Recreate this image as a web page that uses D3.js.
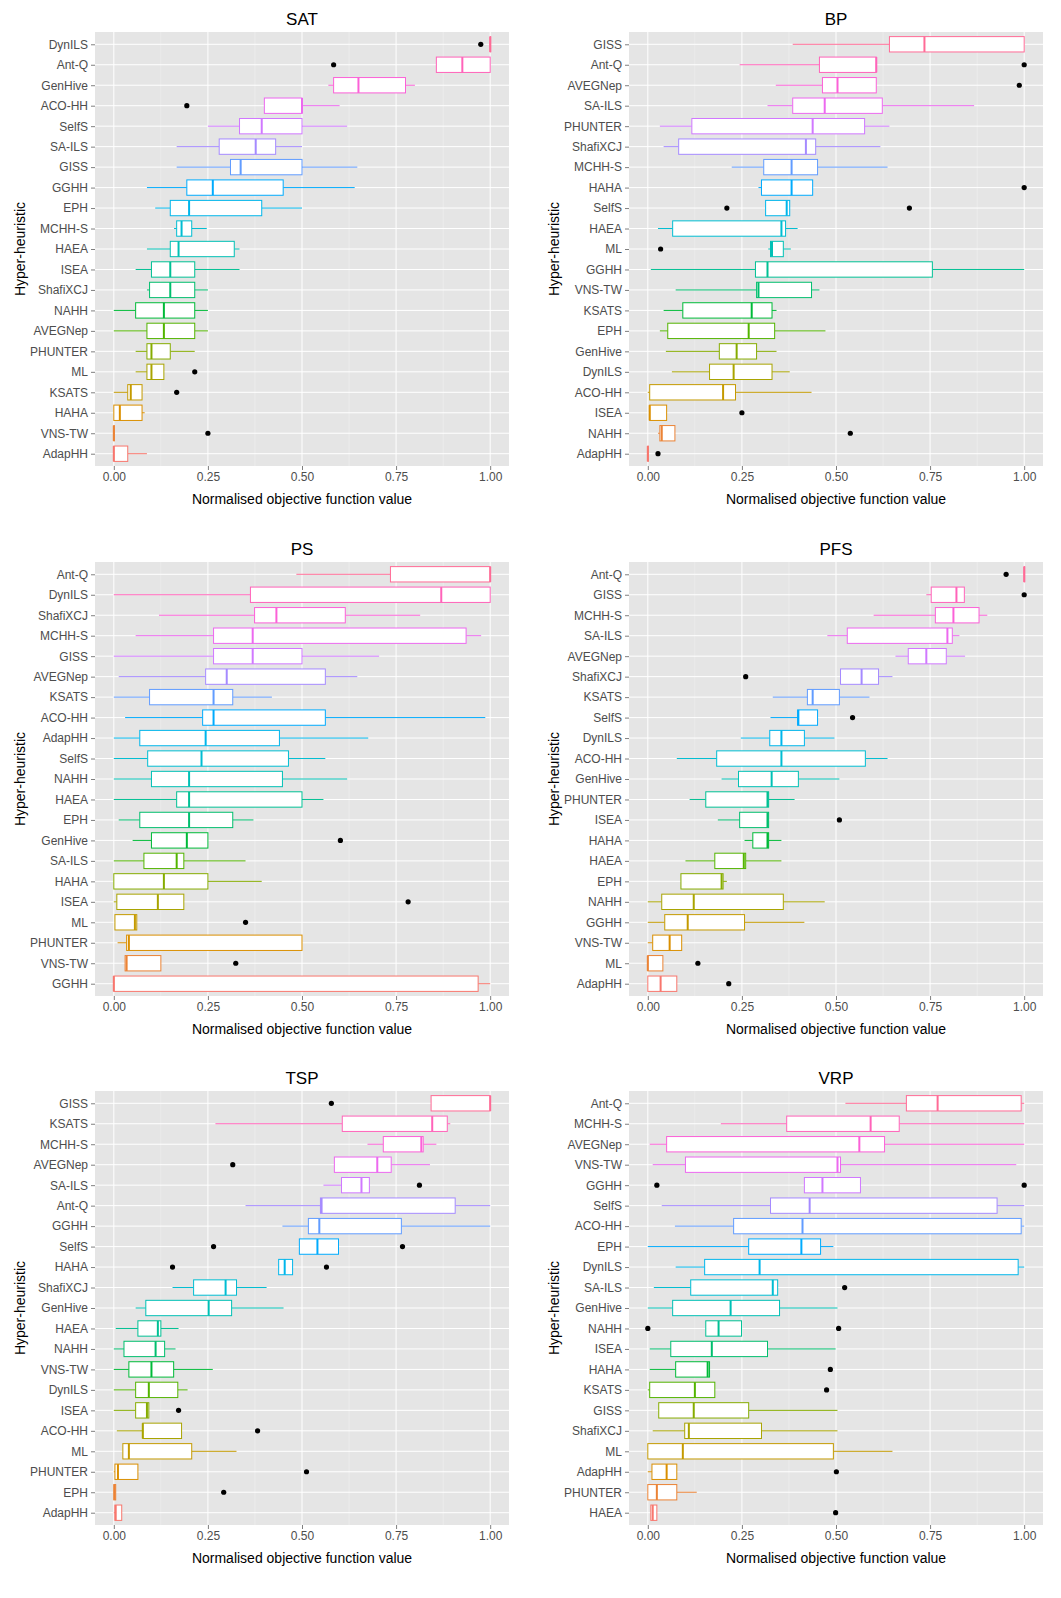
<!DOCTYPE html>
<html><head><meta charset="utf-8">
<script src="https://cdn.jsdelivr.net/npm/d3@7"></script>
<style>body{margin:0;background:#fff;font-family:"Liberation Sans",Arial,sans-serif}</style>
</head><body>
<svg id="chart" width="1061" height="1598"></svg>
<script>
// each panel: names top to bottom, [lo, q1, median, q3, hi], outliers
var satNames = ["DynILS","Ant-Q","GenHive","ACO-HH","SelfS","SA-ILS","GISS","GGHH","EPH","MCHH-S","HAEA","ISEA","ShafiXCJ","NAHH","AVEGNep","PHUNTER","ML","KSATS","HAHA","VNS-TW","AdapHH"];
var satStats = [[1,1,1,1,1],[0.857,0.857,0.926,1,1],[0.57,0.584,0.65,0.775,0.8],[0.4,0.4,0.5,0.5,0.6],[0.25,0.334,0.393,0.5,0.62],[0.167,0.28,0.377,0.43,0.5],[0.167,0.31,0.337,0.5,0.647],[0.088,0.194,0.263,0.45,0.64],[0.11,0.15,0.2,0.393,0.5],[0.16,0.167,0.18,0.207,0.247],[0.088,0.15,0.172,0.32,0.334],[0.058,0.1,0.15,0.215,0.334],[0.088,0.095,0.15,0.215,0.25],[0,0.058,0.133,0.215,0.25],[0,0.088,0.133,0.215,0.25],[0.058,0.088,0.1,0.15,0.215],[0.058,0.088,0.1,0.133,0.133],[0,0.037,0.045,0.075,0.075],[0,0,0.016,0.075,0.082],[0,0,0,0,0],[0,0,0,0.037,0.088]];
var satOut = [[0.975],[0.584],[],[0.194],[],[],[],[],[],[],[],[],[],[],[],[],[0.215],[0.167],[],[0.25],[]];

var bpNames = ["GISS","Ant-Q","AVEGNep","SA-ILS","PHUNTER","ShafiXCJ","MCHH-S","HAHA","SelfS","HAEA","ML","GGHH","VNS-TW","KSATS","EPH","GenHive","DynILS","ACO-HH","ISEA","NAHH","AdapHH"];
var bpStats = [[0.385,0.642,0.735,1,1],[0.244,0.456,0.607,0.607,0.607],[0.34,0.464,0.504,0.607,0.607],[0.318,0.385,0.47,0.623,0.867],[0.032,0.117,0.438,0.576,0.642],[0.042,0.082,0.42,0.446,0.618],[0.223,0.308,0.382,0.451,0.637],[0.294,0.302,0.382,0.438,0.438],[0.313,0.313,0.369,0.377,0.377],[0.027,0.066,0.355,0.366,0.398],[0.32,0.326,0.33,0.36,0.38],[0.008,0.286,0.318,0.756,1],[0.074,0.289,0.294,0.435,0.456],[0.042,0.093,0.276,0.33,0.342],[0.032,0.053,0.268,0.337,0.472],[0.048,0.19,0.236,0.289,0.342],[0.064,0.164,0.228,0.33,0.377],[0,0.005,0.2,0.233,0.435],[0.005,0.005,0.005,0.05,0.05],[0.027,0.032,0.037,0.072,0.072],[0,0,0,0,0]];
var bpOut = [[],[1],[0.987],[],[],[],[],[1],[0.21,0.695],[],[0.034],[],[],[],[],[],[],[],[0.25],[0.538],[0.027]];

var psNames = ["Ant-Q","DynILS","ShafiXCJ","MCHH-S","GISS","AVEGNep","KSATS","ACO-HH","AdapHH","SelfS","NAHH","HAEA","EPH","GenHive","SA-ILS","HAHA","ISEA","ML","PHUNTER","VNS-TW","GGHH"];
var psStats = [[0.485,0.735,1,1,1],[0,0.363,0.87,1,1],[0.12,0.374,0.432,0.615,0.814],[0.058,0.265,0.369,0.936,0.976],[0,0.265,0.369,0.5,0.705],[0.013,0.244,0.3,0.562,0.647],[0,0.095,0.265,0.316,0.42],[0.03,0.236,0.265,0.562,0.987],[0,0.069,0.244,0.44,0.676],[0,0.09,0.233,0.464,0.562],[0,0.1,0.2,0.448,0.62],[0,0.167,0.2,0.5,0.557],[0.013,0.069,0.2,0.316,0.371],[0.05,0.1,0.194,0.25,0.25],[0,0.08,0.167,0.186,0.35],[0,0,0.133,0.25,0.393],[0,0.008,0.117,0.186,0.186],[0.003,0.003,0.056,0.061,0.061],[0.01,0.034,0.04,0.5,0.5],[0.03,0.03,0.034,0.125,0.125],[0,0,0,0.968,1]];
var psOut = [[],[],[],[],[],[],[],[],[],[],[],[],[],[0.602],[],[],[0.782],[0.35],[],[0.324],[]];

var pfsNames = ["Ant-Q","GISS","MCHH-S","SA-ILS","AVEGNep","ShafiXCJ","KSATS","SelfS","DynILS","ACO-HH","GenHive","PHUNTER","ISEA","HAHA","HAEA","EPH","NAHH","GGHH","VNS-TW","ML","AdapHH"];
var pfsStats = [[1,1,1,1,1],[0.74,0.753,0.82,0.841,0.841],[0.6,0.764,0.812,0.88,0.902],[0.477,0.53,0.796,0.809,0.828],[0.658,0.692,0.74,0.793,0.843],[0.512,0.512,0.568,0.613,0.65],[0.332,0.424,0.438,0.509,0.589],[0.326,0.398,0.4,0.451,0.451],[0.247,0.324,0.355,0.416,0.496],[0.077,0.183,0.355,0.578,0.637],[0.196,0.241,0.329,0.4,0.509],[0.111,0.154,0.318,0.321,0.39],[0.186,0.244,0.318,0.321,0.321],[0.257,0.279,0.318,0.321,0.355],[0.1,0.178,0.255,0.26,0.355],[0.088,0.088,0.196,0.2,0.21],[0,0.037,0.122,0.36,0.47],[0,0.045,0.106,0.257,0.416],[0,0.013,0.058,0.09,0.09],[0,0,0,0.04,0.04],[0,0,0.034,0.077,0.077]];
var pfsOut = [[0.952],[1],[],[],[],[0.26],[],[0.544],[],[],[],[],[0.509],[],[],[],[],[],[],[0.133],[0.215]];

var tspNames = ["GISS","KSATS","MCHH-S","AVEGNep","SA-ILS","Ant-Q","GGHH","SelfS","HAHA","ShafiXCJ","GenHive","HAEA","NAHH","VNS-TW","DynILS","ISEA","ACO-HH","ML","PHUNTER","EPH","AdapHH"];
var tspStats = [[0.843,0.843,1,1,1],[0.27,0.607,0.846,0.886,0.894],[0.674,0.716,0.817,0.822,0.857],[0.586,0.586,0.7,0.737,0.84],[0.557,0.605,0.658,0.679,0.679],[0.35,0.549,0.552,0.907,1],[0.448,0.517,0.546,0.764,1],[0.493,0.493,0.541,0.597,0.597],[0.438,0.438,0.454,0.475,0.475],[0.156,0.212,0.297,0.326,0.406],[0.058,0.085,0.252,0.313,0.451],[0.005,0.064,0.117,0.125,0.172],[0,0.027,0.111,0.135,0.164],[0,0.04,0.1,0.159,0.263],[0,0.058,0.093,0.17,0.196],[0,0.058,0.088,0.093,0.093],[0.008,0.077,0.077,0.18,0.18],[0.024,0.024,0.04,0.207,0.326],[0,0.003,0.011,0.064,0.064],[0,0,0.002,0.005,0.005],[0,0.003,0.005,0.021,0.021]];
var tspOut = [[0.578],[],[],[0.316],[0.812],[],[],[0.265,0.767],[0.156,0.565],[],[],[],[],[],[],[0.172],[0.382],[],[0.512],[0.292],[]];

var vrpNames = ["Ant-Q","MCHH-S","AVEGNep","VNS-TW","GGHH","SelfS","ACO-HH","EPH","DynILS","SA-ILS","GenHive","NAHH","ISEA","HAHA","KSATS","GISS","ShafiXCJ","ML","AdapHH","PHUNTER","HAEA"];
var vrpStats = [[0.525,0.687,0.77,0.992,1],[0.194,0.369,0.592,0.668,1],[0.005,0.05,0.562,0.629,1],[0.013,0.1,0.504,0.512,0.979],[0.416,0.416,0.464,0.565,0.565],[0.037,0.326,0.43,0.928,1],[0.072,0.228,0.411,0.992,1],[0,0.268,0.408,0.459,0.493],[0.074,0.151,0.297,0.984,1],[0.016,0.114,0.332,0.345,0.345],[0,0.066,0.22,0.35,0.504],[0.154,0.154,0.188,0.249,0.249],[0.005,0.061,0.17,0.318,0.499],[0.005,0.074,0.159,0.164,0.164],[0,0.005,0.125,0.178,0.178],[0.029,0.029,0.122,0.268,0.504],[0.013,0.098,0.109,0.302,0.504],[0,0,0.093,0.493,0.65],[0,0.011,0.05,0.077,0.077],[0,0,0.024,0.077,0.13],[0.008,0.008,0.013,0.024,0.024]];
var vrpOut = [[],[],[],[],[0.024,1],[],[],[],[],[0.523],[],[0,0.507],[],[0.485],[0.475],[],[],[],[0.501],[],[0.499]];

var panels = [
  {title:"SAT", names:satNames, stats:satStats, out:satOut, col:0, row:0},
  {title:"BP", names:bpNames, stats:bpStats, out:bpOut, col:1, row:0},
  {title:"PS", names:psNames, stats:psStats, out:psOut, col:0, row:1},
  {title:"PFS", names:pfsNames, stats:pfsStats, out:pfsOut, col:1, row:1},
  {title:"TSP", names:tspNames, stats:tspStats, out:tspOut, col:0, row:2},
  {title:"VRP", names:vrpNames, stats:vrpStats, out:vrpOut, col:1, row:2}
];
var xTicks = [0, 0.25, 0.5, 0.75, 1];

// polar LUV -> sRGB, like R's hcl()
function hclLuv(h, c, l) {
  var hr = h * Math.PI / 180, u = c * Math.cos(hr), v = c * Math.sin(hr);
  var un = 0.19783982, vn = 0.4683363;
  var Y = l > 8 ? Math.pow((l + 16) / 116, 3) : l / 903.3;
  var up = u / (13 * l) + un, vp = v / (13 * l) + vn;
  var X = Y * 9 * up / (4 * vp), Z = Y * (12 - 3 * up - 20 * vp) / (4 * vp);
  var r = 3.2404542 * X - 1.5371385 * Y - 0.4985314 * Z;
  var g = -0.969266 * X + 1.8760108 * Y + 0.041556 * Z;
  var b = 0.0556434 * X - 0.2040259 * Y + 1.0572252 * Z;
  function gam(t) {
    t = t <= 0.0031308 ? 12.92 * t : 1.055 * Math.pow(t, 1 / 2.4) - 0.055;
    return Math.round(Math.max(0, Math.min(1, t)) * 255);
  }
  return "rgb(" + gam(r) + "," + gam(g) + "," + gam(b) + ")";
}

var svg = d3.select("#chart");
var colLeft = [95, 629], rowTop = [32, 562, 1091], pw = 414, ph = 434;

panels.forEach(function(p) {
  var x0 = colLeft[p.col], y0 = rowTop[p.row];
  var g = svg.append("g").attr("transform", "translate(" + x0 + "," + y0 + ")");
  var x = d3.scaleLinear().domain([-0.05, 1.05]).range([0, pw]);
  var y = d3.scalePoint().domain(p.names).range([0, ph]).padding(0.6);
  var n = p.names.length;

  g.append("rect").attr("width", pw).attr("height", ph).attr("fill", "#e5e5e5");
  [0.125, 0.375, 0.625, 0.875].forEach(function(t) {
    g.append("line").attr("x1", x(t)).attr("x2", x(t)).attr("y1", 0).attr("y2", ph)
      .attr("stroke", "#f2f2f2").attr("stroke-width", 0.5);
  });
  xTicks.forEach(function(t) {
    g.append("line").attr("x1", x(t)).attr("x2", x(t)).attr("y1", 0).attr("y2", ph)
      .attr("stroke", "#fff").attr("stroke-width", 1);
  });
  p.names.forEach(function(nm) {
    g.append("line").attr("x1", 0).attr("x2", pw).attr("y1", y(nm)).attr("y2", y(nm))
      .attr("stroke", "#fff").attr("stroke-width", 1);
  });

  var bh = y.step() * 0.75;
  p.names.forEach(function(nm, i) {
    var s = p.stats[i];
    var c = hclLuv(15 + 360 * (n - 1 - i) / n, 100, 65);
    var cy = y(nm);
    g.append("line").attr("x1", x(s[0])).attr("x2", x(s[1])).attr("y1", cy).attr("y2", cy).attr("stroke", c);
    g.append("line").attr("x1", x(s[3])).attr("x2", x(s[4])).attr("y1", cy).attr("y2", cy).attr("stroke", c);
    g.append("rect").attr("x", x(s[1])).attr("y", cy - bh / 2)
      .attr("width", Math.max(0.5, x(s[3]) - x(s[1]))).attr("height", bh)
      .attr("fill", "#fff").attr("stroke", c);
    g.append("line").attr("x1", x(s[2])).attr("x2", x(s[2])).attr("y1", cy - bh / 2).attr("y2", cy + bh / 2)
      .attr("stroke", c).attr("stroke-width", 2);
    p.out[i].forEach(function(o) {
      g.append("circle").attr("cx", x(o)).attr("cy", cy).attr("r", 2.6).attr("fill", "#000");
    });
  });

  var ya = g.append("g").call(d3.axisLeft(y).tickSize(4).tickPadding(3));
  ya.select(".domain").remove();
  ya.selectAll("line").attr("stroke", "#7f7f7f");
  ya.selectAll("text").attr("fill", "#4d4d4d").style("font-size", "12px").style("font-family", "Liberation Sans, Arial, sans-serif");

  var xa = g.append("g").attr("transform", "translate(0," + ph + ")")
    .call(d3.axisBottom(x).tickValues(xTicks).tickFormat(d3.format(".2f")).tickSize(4).tickPadding(2));
  xa.select(".domain").remove();
  xa.selectAll("line").attr("stroke", "#7f7f7f");
  xa.selectAll("text").attr("fill", "#4d4d4d").style("font-size", "12px").style("font-family", "Liberation Sans, Arial, sans-serif");

  g.append("text").attr("x", pw / 2).attr("y", -7).attr("text-anchor", "middle")
    .style("font-size", "17px").text(p.title);
  g.append("text").attr("x", pw / 2).attr("y", ph + 38).attr("text-anchor", "middle")
    .style("font-size", "14px").text("Normalised objective function value");
  g.append("text").attr("transform", "translate(" + (-70) + "," + (ph / 2) + ") rotate(-90)")
    .attr("text-anchor", "middle").style("font-size", "14px").text("Hyper-heuristic");
});
</script>
</body></html>
